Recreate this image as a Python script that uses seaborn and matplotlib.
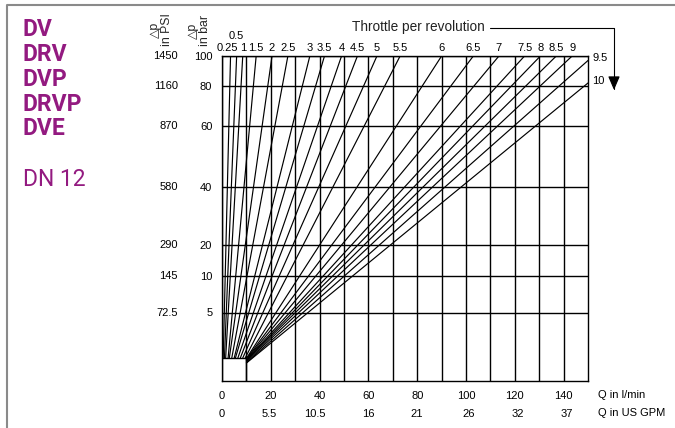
import numpy as np
import pandas as pd
import matplotlib
matplotlib.use("Agg")
import matplotlib.pyplot as plt
import seaborn as sns
from matplotlib.lines import Line2D
import matplotlib.transforms as mtrans

# ---------------- data ----------------
throttle = ["0.25", "0.5", "1", "1.5", "2", "2.5", "3", "3.5", "4", "4.5", "5",
            "5.5", "6", "6.5", "7", "7.5", "8", "8.5", "9", "9.5", "10"]
start_q = [0.5, 1.0, 1.5, 2.5, 3.0, 4.0, 5.0, 5.5, 6.5, 7.5, 8.5,
           9.5, 10, 10, 10, 10, 10, 10, 10, 10, 10]
start_p = [2.5, 2.5, 2.5, 2.5, 2.5, 2.5, 2.5, 2.5, 2.5, 2.5, 2.5,
           2.5, 2.45, 2.4, 2.35, 2.3, 2.25, 2.2, 2.1, 2.0, 1.95]
end_q = [3.5, 6, 8.5, 14, 20.5, 27, 36, 42, 49, 55.5, 63.5,
         73, 90, 103, 113.5, 124, 130.5, 137, 143.5, 150, 150]
end_p = [100] * 19 + [97, 82]

bar_ticks = [5, 10, 20, 40, 60, 80, 100]
bar_labels = ["5", "10", "20", "40", "60", "80", "100"]
psi_labels = ["72.5", "145", "290", "580", "870", "1160", "1450"]
lpm_ticks = [0, 20, 40, 60, 80, 100, 120, 140]
lpm_labels = ["0", "20", "40", "60", "80", "100", "120", "140"]
gpm_labels = ["0", "5.5", "10.5", "16", "21", "26", "32", "37"]
grid_q = [10, 30, 50, 70, 90, 110, 130]
box_q = 10
box_p = 2.5

models = ["DV", "DRV", "DVP", "DRVP", "DVE"]
size_label = "DN 12"

# non-uniform pressure axis of the printed chart (bar value -> relative height)
scale_bar = [0, 2.5, 5, 10, 20, 40, 60, 80, 100]
scale_pos = [0, 23, 68.5, 105, 136, 194, 255, 295, 325]

# ---------------- style ----------------
sns.set_theme(style="white")
plt.rcParams["font.family"] = ["Liberation Sans", "DejaVu Sans"]
plt.rcParams["axes.linewidth"] = 1.0
FS = 8

W, H = 675, 428
fig = plt.figure(figsize=(W / 100, H / 100), dpi=100)
L, R, B, T = 222, 588, 381, 56
ax = fig.add_axes([L / W, (H - B) / H, (R - L) / W, (B - T) / H])


def fwd(v):
    return np.interp(v, scale_bar, scale_pos)


def inv(p):
    return np.interp(p, scale_pos, scale_bar)


ax.set_yscale("function", functions=(fwd, inv))

rows = []
for t, sq, sp, eq, ep in zip(throttle, start_q, start_p, end_q, end_p):
    rows.append({"throttle": t, "Q": sq, "p": sp})
    rows.append({"throttle": t, "Q": eq, "p": ep})
df = pd.DataFrame(rows)

sns.lineplot(data=df, x="Q", y="p", units="throttle", estimator=None,
             color="black", lw=0.85, sort=False, legend=False, ax=ax)

# small box at the origin
ax.plot([0, box_q, box_q], [box_p, box_p, 0], color="black", lw=1.0)

ax.set_xlim(0, 150)
ax.set_ylim(0, 100)

# grid
ax.set_xticks(lpm_ticks)
ax.set_xticklabels(lpm_labels)
ax.set_xticks(grid_q, minor=True)
ax.set_yticks(bar_ticks)
ax.set_yticklabels(bar_labels)
ax.grid(True, which="both", axis="x", color="black", lw=1.0)
ax.grid(True, which="major", axis="y", color="black", lw=1.0)
ax.set_axisbelow(False)
ax.tick_params(axis="x", which="major", direction="out", length=4, width=1.0,
               pad=3.5, labelsize=FS, colors="black")
ax.tick_params(axis="x", which="minor", length=0)
ax.tick_params(axis="y", direction="out", length=3.5, width=1.0, pad=3.5,
               labelsize=FS, colors="black")
ax.xaxis.get_major_ticks()[0].tick1line.set_visible(False)
ax.yaxis.get_major_ticks()[-1].tick1line.set_visible(False)
for s in ax.spines.values():
    s.set_color("black")
    s.set_linewidth(1.0)
ax.set_xlabel("")
ax.set_ylabel("")

# PSI labels
yt = mtrans.blended_transform_factory(ax.transAxes, ax.transData)
for v, lab in zip(bar_ticks, psi_labels):
    ax.text(-(L - 178) / (R - L), v, lab, transform=yt, ha="right", va="center",
            fontsize=FS, color="black")

# GPM labels (right aligned with l/min labels)
xt = mtrans.blended_transform_factory(ax.transData, ax.transAxes)
for q, lab, lab2 in zip(lpm_ticks, lpm_labels, gpm_labels):
    off = len(lab) * FS * 0.556 / 2
    ax.annotate(lab2, xy=(q, 0), xycoords=xt, xytext=(off, -23.5),
                textcoords="offset points", ha="right", va="center",
                fontsize=FS, color="black")

ax.text(1.027, -(395 - B) / (B - T), "Q in l/min", transform=ax.transAxes,
        ha="left", va="center", fontsize=FS, color="black")
ax.text(1.027, -(413 - B) / (B - T), "Q in US GPM", transform=ax.transAxes,
        ha="left", va="center", fontsize=FS, color="black")

# throttle labels
for t, eq, ep in zip(throttle, end_q, end_p):
    if ep >= 100:
        dy = 10.5 if t == "0.5" else 2
        dx = -2.5 if t == "0.25" else 0
        ax.annotate(t, xy=(eq, ep), xytext=(dx, dy), textcoords="offset points",
                    ha="center", va="bottom", fontsize=FS, color="black")
    else:
        ax.annotate(t, xy=(eq, ep), xytext=(3, 1.5), textcoords="offset points",
                    ha="left", va="center", fontsize=FS, color="black")

# axis titles
fig.text(161 / W, 1 - 46 / H, "△p\nin PSI", rotation=90, ha="center",
         va="bottom", fontsize=8.8, linespacing=0.9)
fig.text(199 / W, 1 - 46 / H, "△p\nin bar", rotation=90, ha="center",
         va="bottom", fontsize=8.8, linespacing=0.9)

# throttle title with elbow arrow
fig.text(352 / W, 1 - 27 / H, "Throttle per revolution", ha="left",
         va="center", fontsize=9.8, color="#222222")
ax.annotate("", xy=(614, H - 90), xycoords="figure pixels",
            xytext=(490, H - 27.5), textcoords="figure pixels",
            arrowprops=dict(arrowstyle="-|>,head_length=0.7,head_width=0.3",
                            connectionstyle="angle,angleA=0,angleB=90,rad=0",
                            color="black", lw=0.8, shrinkA=0, shrinkB=0))

# left product names
purple = "#931a80"
for i, m in enumerate(models):
    fig.text(23 / W, 1 - (30 + i * 24.7) / H, m, ha="left", va="center",
             fontsize=16.5, fontweight="bold", color=purple,
             family=["Roboto", "DejaVu Sans"])
fig.text(23 / W, 1 - 180 / H, size_label, ha="left", va="center",
         fontsize=16.5, color=purple, family=["Roboto", "DejaVu Sans"])

# outer frame (top and left)
fig.add_artist(Line2D([7 / W, 7 / W, 1], [0, 1 - 5 / H, 1 - 5 / H],
                      transform=fig.transFigure, color="#8a8a8a", lw=1.5))

fig.savefig("out.png", dpi=100)
